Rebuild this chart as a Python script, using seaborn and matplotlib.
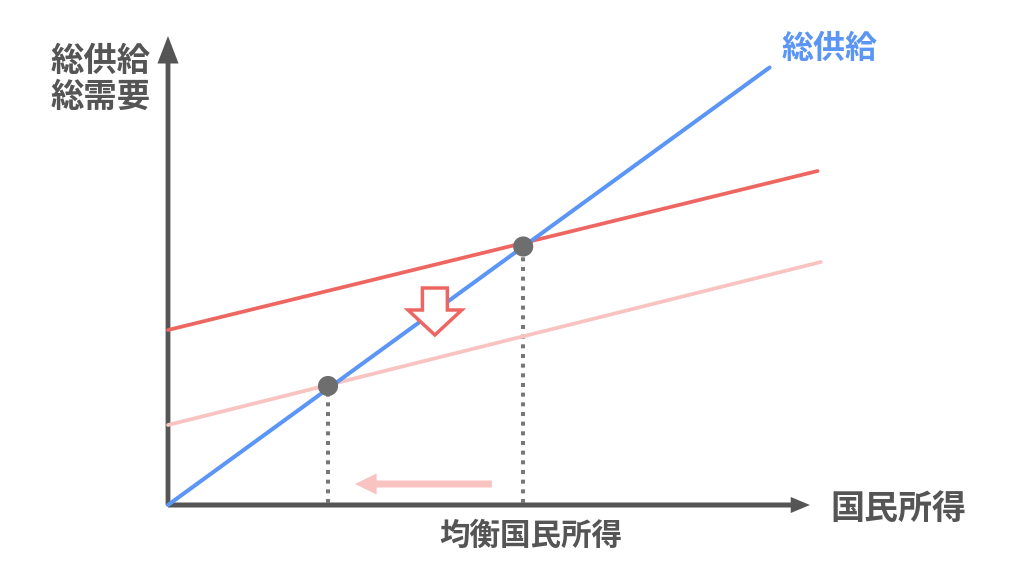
import numpy as np
import pandas as pd
import matplotlib.pyplot as plt
from matplotlib.patches import FancyArrow
import seaborn as sns

# Lines (national income on x, supply/demand on y), end points
supply_x = [0.0, 9.4]
supply_y = [0.0, 8.75]
demand_x = [0.0, 10.15]
demand_y = [3.5, 6.68]
demand_low_x = [0.0, 10.2]
demand_low_y = [1.6, 4.86]

# Equilibrium points (new, old)
eq_x = [2.5, 5.55]
eq_y = [2.38, 5.17]

# Labels
y_label = "総供給\n総需要"
x_label = "国民所得"
eq_label = "均衡国民所得"
supply_label = "総供給"

blue = "#5b96f7"
red = "#ee6661"
pink = "#f8c3c1"
gray = "#555555"

sns.set_style("white")
plt.rcParams['font.family'] = ['Noto Sans CJK JP', 'DejaVu Sans']

fig = plt.figure(figsize=(10.24, 5.69), dpi=100)
ax = fig.add_axes([0, 0, 1, 1])
ax.set_xlim(-168 / 64, (1024 - 168) / 64)
ax.set_ylim(-(569 - 505) / 50, 505 / 50)
ax.axis("off")

# axes with arrows
ax.add_patch(FancyArrow(0, 0, 0, 9.38, width=0.075, head_width=0.33, head_length=0.55,
                        length_includes_head=True, color=gray, lw=0))
ax.add_patch(FancyArrow(0, 0, 10.03, 0, width=0.1, head_width=0.32, head_length=0.3,
                        length_includes_head=True, color=gray, lw=0))

# dotted drop lines
for x, y in zip(eq_x, eq_y):
    ax.plot([x, x], [0.05, y], color="#777777", lw=2.9, ls=(0, (1, 1.4)),
            solid_capstyle="butt", dash_capstyle="butt", zorder=2)

sns.lineplot(x=demand_low_x, y=demand_low_y, color=pink, lw=2.7, ax=ax, zorder=3)
sns.lineplot(x=demand_x, y=demand_y, color=red, lw=2.7, ax=ax, zorder=3)
sns.lineplot(x=supply_x, y=supply_y, color=blue, lw=2.9, ax=ax, zorder=4)
sns.scatterplot(x=eq_x, y=eq_y, color="#6e6e6e", s=210, edgecolor="none", ax=ax, zorder=5)

# shift arrows
ax.add_patch(FancyArrow(4.17, 4.34, 0, -0.94, width=0.39, head_width=0.84, head_length=0.5,
                        length_includes_head=True, fc="white", ec=red, lw=2.5, zorder=6))
ax.add_patch(FancyArrow(5.06, 0.42, -2.14, 0, width=0.14, head_width=0.42, head_length=0.34,
                        length_includes_head=True, color=pink, lw=0, zorder=6))

# texts
ax.text(-1.06, 9.2, y_label, fontsize=24, fontweight="bold", color=gray,
        ha="center", va="top", linespacing=1.12)
ax.text(10.34, 9.13, supply_label, fontsize=23, fontweight="bold", color=blue,
        ha="center", va="center")
ax.text(11.42, -0.06, x_label, fontsize=24.5, fontweight="bold", color=gray,
        ha="center", va="center")
ax.text(5.67, -0.62, eq_label, fontsize=22, fontweight="bold", color=gray,
        ha="center", va="center")

fig.savefig("out.png", dpi=100)
